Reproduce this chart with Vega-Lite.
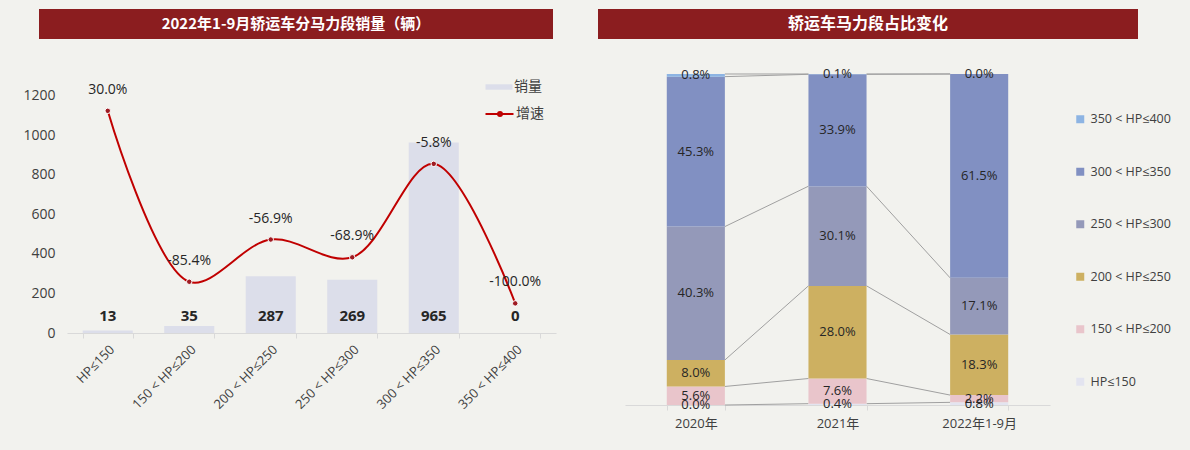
{
  "$schema": "https://vega.github.io/schema/vega-lite/v6.json",
  "background": "#F2F2EE",
  "padding": {"left": 22, "top": 9, "right": 30, "bottom": 30},
  "spacing": 28,
  "resolve": {"scale": {"color": "independent", "fill": "independent", "stroke": "independent"}, "legend": {"color": "independent", "fill": "independent", "stroke": "independent"}},
  "config": {
    "view": {"stroke": null},
    "font": "'Open Sans', 'Noto Sans CJK SC', sans-serif",
    "locale": {"number": {"decimal": ".", "thousands": ",", "grouping": [3], "currency": ["$", ""], "minus": "-"}},
    "axis": {"labelColor": "#404040", "domainColor": "#D9D9D9", "tickColor": "#D9D9D9", "grid": false, "title": null},
    "legend": {"labelColor": "#404040", "padding": 0}
  },
  "vconcat": [
    {
      "spacing": 0,
      "hconcat": [
        {"width": 514, "height": 30, "view": {"fill": "#8B1D1F"}, "data": {"values": [{}]},
         "mark": {"type": "text", "text": "2022年1-9月轿运车分马力段销量（辆）", "color": "#FFFFFF", "fontWeight": "bold", "fontSize": 15, "font": "Noto Sans CJK SC"}},
        {"width": 45, "height": 30, "data": {"values": [{}]}, "mark": {"type": "text", "text": ""}},
        {"width": 540, "height": 30, "view": {"fill": "#8B1D1F"}, "data": {"values": [{}]},
         "mark": {"type": "text", "text": "轿运车马力段占比变化", "color": "#FFFFFF", "fontWeight": "bold", "fontSize": 16, "font": "Noto Sans CJK SC"}}
      ]
    },
    {
      "spacing": 69,
      "resolve": {"scale": {"color": "independent", "fill": "independent", "stroke": "independent"}, "legend": {"color": "independent", "fill": "independent", "stroke": "independent"}},
      "hconcat": [
        {
          "width": 517,
          "height": 266,
          "data": {"values": [
            {"c": "HP≤150", "n": 13, "g": 0.3},
            {"c": "150 < HP≤200", "n": 35, "g": -0.854},
            {"c": "200 < HP≤250", "n": 287, "g": -0.569},
            {"c": "250 < HP≤300", "n": 269, "g": -0.689},
            {"c": "300 < HP≤350", "n": 965, "g": -0.058},
            {"c": "350 < HP≤400", "n": 0, "g": -1.0}
          ]},
          "encoding": {
            "x": {"field": "c", "type": "nominal", "sort": null,
                  "scale": {"range": [28, 517], "paddingInner": 0.386, "paddingOuter": 0.193},
                  "axis": {"labelAngle": -45, "labelFontSize": 13, "tickBand": "extent", "tickSize": 5, "labelPadding": 5}}
          },
          "layer": [
            {
              "layer": [
                {
                  "mark": {"type": "bar"},
                  "encoding": {
                    "y": {"field": "n", "type": "quantitative",
                          "scale": {"domain": [0, 1346.8], "nice": false},
                          "axis": {"values": [0, 200, 400, 600, 800, 1000, 1200], "format": "d", "labelFontSize": 14, "ticks": false, "domain": false, "labelPadding": 12, "offset": -28}},
                    "fill": {"datum": "销量", "type": "nominal", "scale": {"range": ["#DCDEEA"]},
                             "legend": {"orient": "none", "legendX": 450, "legendY": 10, "title": null,
                                        "symbolType": "M-1.35,-0.27H1.35V0.27H-1.35Z", "symbolSize": 400, "symbolStrokeWidth": 0,
                                        "labelFontSize": 14, "labelOffset": 5}}
                  }
                },
                {
                  "mark": {"type": "text", "fontWeight": "bold", "fontSize": 15, "color": "#262626"},
                  "encoding": {
                    "y": {"datum": 85, "type": "quantitative"},
                    "text": {"field": "n", "type": "quantitative"}
                  }
                }
              ]
            },
            {
              "encoding": {
                "y": {"field": "g", "type": "quantitative", "scale": {"domain": [-1.2, 0.5958], "nice": false, "zero": false}, "axis": null}
              },
              "layer": [
                {
                  "mark": {"type": "line", "interpolate": "catmull-rom", "strokeWidth": 2},
                  "encoding": {
                    "stroke": {"datum": "增速", "type": "nominal", "scale": {"range": ["#C00000"]},
                               "legend": {"orient": "none", "legendX": 450, "legendY": 36, "title": null,
                                          "symbolType": "M-1.45,0H-0.2M0.2,0A0.2,0.2 0 1,1 -0.2,0A0.2,0.2 0 1,1 0.2,0M0.2,0H1.35",
                                          "symbolSize": 400, "symbolStrokeWidth": 2, "symbolFillColor": "#9E1B22",
                                          "labelFontSize": 14, "labelOffset": 5}}
                  }
                },
                {
                  "mark": {"type": "point", "filled": true, "size": 30, "fill": "#9E1B22", "stroke": "#FFFFFF", "strokeWidth": 1, "opacity": 1}
                },
                {
                  "mark": {"type": "text", "dy": -21, "fontSize": 14, "color": "#262626"},
                  "encoding": {"text": {"field": "g", "type": "quantitative", "format": ".1%"}}
                }
              ]
            }
          ],
          "resolve": {"scale": {"y": "independent"}}
        },
        {
          "width": 425,
          "height": 338,
          "layer": [
            {
              "data": {"values": [
                {"from": "2020年", "to": "2021年", "a": 0.0, "b": 0.004},
                {"from": "2020年", "to": "2021年", "a": 0.056, "b": 0.080},
                {"from": "2020年", "to": "2021年", "a": 0.136, "b": 0.360},
                {"from": "2020年", "to": "2021年", "a": 0.539, "b": 0.661},
                {"from": "2020年", "to": "2021年", "a": 0.992, "b": 0.999},
                {"from": "2020年", "to": "2021年", "a": 1.0, "b": 1.0},
                {"from": "2021年", "to": "2022年1-9月", "a": 0.004, "b": 0.008},
                {"from": "2021年", "to": "2022年1-9月", "a": 0.080, "b": 0.030},
                {"from": "2021年", "to": "2022年1-9月", "a": 0.360, "b": 0.213},
                {"from": "2021年", "to": "2022年1-9月", "a": 0.661, "b": 0.384},
                {"from": "2021年", "to": "2022年1-9月", "a": 0.999, "b": 1.0},
                {"from": "2021年", "to": "2022年1-9月", "a": 1.0, "b": 1.0}
              ]},
              "mark": {"type": "rule", "color": "#A0A0A0", "strokeWidth": 1},
              "encoding": {
                "x": {"field": "from", "type": "nominal", "bandPosition": 1},
                "x2": {"field": "to", "bandPosition": 0},
                "y": {"field": "a", "type": "quantitative"},
                "y2": {"field": "b"}
              }
            },
            {
              "data": {"values": [
                {"year": "2020年", "seg": "HP≤150", "k": 1, "v": 0.0},
                {"year": "2020年", "seg": "150 < HP≤200", "k": 2, "v": 0.056},
                {"year": "2020年", "seg": "200 < HP≤250", "k": 3, "v": 0.080},
                {"year": "2020年", "seg": "250 < HP≤300", "k": 4, "v": 0.403},
                {"year": "2020年", "seg": "300 < HP≤350", "k": 5, "v": 0.453},
                {"year": "2020年", "seg": "350 < HP≤400", "k": 6, "v": 0.008},
                {"year": "2021年", "seg": "HP≤150", "k": 1, "v": 0.004},
                {"year": "2021年", "seg": "150 < HP≤200", "k": 2, "v": 0.076},
                {"year": "2021年", "seg": "200 < HP≤250", "k": 3, "v": 0.280},
                {"year": "2021年", "seg": "250 < HP≤300", "k": 4, "v": 0.301},
                {"year": "2021年", "seg": "300 < HP≤350", "k": 5, "v": 0.339},
                {"year": "2021年", "seg": "350 < HP≤400", "k": 6, "v": 0.001},
                {"year": "2022年1-9月", "seg": "HP≤150", "k": 1, "v": 0.008},
                {"year": "2022年1-9月", "seg": "150 < HP≤200", "k": 2, "v": 0.022},
                {"year": "2022年1-9月", "seg": "200 < HP≤250", "k": 3, "v": 0.183},
                {"year": "2022年1-9月", "seg": "250 < HP≤300", "k": 4, "v": 0.171},
                {"year": "2022年1-9月", "seg": "300 < HP≤350", "k": 5, "v": 0.615},
                {"year": "2022年1-9月", "seg": "350 < HP≤400", "k": 6, "v": 0.0}
              ]},
              "encoding": {
                "y": {"field": "v", "type": "quantitative", "stack": "normalize"},
                "order": {"field": "k", "type": "quantitative"}
              },
              "layer": [
                {
                  "mark": {"type": "bar"},
                  "encoding": {
                    "x": {"field": "year", "type": "nominal"},
                    "color": {"field": "seg", "type": "nominal",
                              "scale": {"domain": ["350 < HP≤400", "300 < HP≤350", "250 < HP≤300", "200 < HP≤250", "150 < HP≤200", "HP≤150"],
                                        "range": ["#8DB4E3", "#8190C2", "#9499B9", "#CDB061", "#E9C5CB", "#E3E4F0"]},
                              "legend": {"orient": "none", "legendX": 449, "legendY": 46, "title": null,
                                         "symbolType": "square", "symbolSize": 64, "symbolStrokeWidth": 0,
                                         "labelFontSize": 12.5, "labelOffset": 4, "rowPadding": 39.5}}
                  }
                },
                {
                  "mark": {"type": "text", "fontSize": 13, "color": "#262626"},
                  "encoding": {
                    "x": {"field": "year", "type": "nominal"},
                    "y": {"field": "v", "type": "quantitative", "stack": "normalize", "bandPosition": 0.5},
                    "detail": {"field": "seg", "type": "nominal"},
                    "text": {"field": "v", "type": "quantitative", "format": ".1%"}
                  }
                }
              ]
            }
          ],
          "encoding": {
            "x": {"type": "nominal",
                  "scale": {"domain": ["2020年", "2021年", "2022年1-9月"], "paddingInner": 0.59, "paddingOuter": 0.295},
                  "axis": {"labelAngle": 0, "labelFontSize": 13, "tickBand": "extent", "tickSize": 5, "labelPadding": 7}},
            "y": {"type": "quantitative", "scale": {"domain": [0, 1.0211], "nice": false}, "axis": null}
          }
        }
      ]
    }
  ]
}
